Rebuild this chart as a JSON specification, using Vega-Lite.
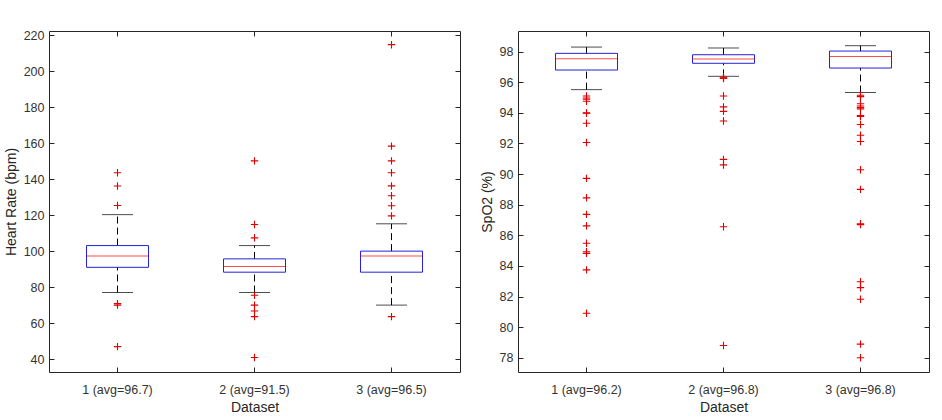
{
  "$schema": "https://vega.github.io/schema/vega-lite/v6.json",
  "padding": {"left": 3, "top": 28, "right": 5, "bottom": 5},
  "background": "white",
  "config": {
    "view": {"stroke": "#262626", "strokeWidth": 1},
    "axis": {
      "labelFont": "Liberation Sans", "titleFont": "Liberation Sans",
      "labelFontSize": 12.5, "titleFontSize": 14, "titleFontWeight": "normal",
      "labelColor": "#333333", "titleColor": "#262626",
      "grid": false, "domain": false, "tickColor": "#262626", "tickSize": -5
    }
  },
  "datasets": {
    "hr": [
      {"dataset": "1 (avg=96.7)", "lower": 77, "q1": 91, "median": 97.3, "q3": 103.1, "upper": 120.3},
      {"dataset": "2 (avg=91.5)", "lower": 77, "q1": 88.3, "median": 91.4, "q3": 95.7, "upper": 103.1},
      {"dataset": "3 (avg=96.5)", "lower": 70, "q1": 88.3, "median": 97.3, "q3": 100, "upper": 115.2}
    ],
    "hr_out": [
      {"dataset": "1 (avg=96.7)", "value": 143.6}, {"dataset": "1 (avg=96.7)", "value": 136.2},
      {"dataset": "1 (avg=96.7)", "value": 125.4}, {"dataset": "1 (avg=96.7)", "value": 70.8},
      {"dataset": "1 (avg=96.7)", "value": 70}, {"dataset": "1 (avg=96.7)", "value": 46.9},
      {"dataset": "2 (avg=91.5)", "value": 150.2}, {"dataset": "2 (avg=91.5)", "value": 114.8},
      {"dataset": "2 (avg=91.5)", "value": 107.4}, {"dataset": "2 (avg=91.5)", "value": 75.5},
      {"dataset": "2 (avg=91.5)", "value": 70}, {"dataset": "2 (avg=91.5)", "value": 66.7},
      {"dataset": "2 (avg=91.5)", "value": 63.6}, {"dataset": "2 (avg=91.5)", "value": 40.9},
      {"dataset": "3 (avg=96.5)", "value": 214.8}, {"dataset": "3 (avg=96.5)", "value": 158.4},
      {"dataset": "3 (avg=96.5)", "value": 150.2}, {"dataset": "3 (avg=96.5)", "value": 143.6},
      {"dataset": "3 (avg=96.5)", "value": 136.3}, {"dataset": "3 (avg=96.5)", "value": 130.8},
      {"dataset": "3 (avg=96.5)", "value": 125.2}, {"dataset": "3 (avg=96.5)", "value": 119.6},
      {"dataset": "3 (avg=96.5)", "value": 63.6}
    ],
    "spo2": [
      {"dataset": "1 (avg=96.2)", "lower": 95.52, "q1": 96.8, "median": 97.54, "q3": 97.89, "upper": 98.3},
      {"dataset": "2 (avg=96.8)", "lower": 96.39, "q1": 97.24, "median": 97.52, "q3": 97.8, "upper": 98.24},
      {"dataset": "3 (avg=96.8)", "lower": 95.33, "q1": 96.93, "median": 97.69, "q3": 98.04, "upper": 98.39}
    ],
    "spo2_out": [
      {"dataset": "1 (avg=96.2)", "value": 95.1}, {"dataset": "1 (avg=96.2)", "value": 94.97},
      {"dataset": "1 (avg=96.2)", "value": 94.89}, {"dataset": "1 (avg=96.2)", "value": 94.76},
      {"dataset": "1 (avg=96.2)", "value": 94.0}, {"dataset": "1 (avg=96.2)", "value": 93.98},
      {"dataset": "1 (avg=96.2)", "value": 93.32}, {"dataset": "1 (avg=96.2)", "value": 92.06},
      {"dataset": "1 (avg=96.2)", "value": 89.72}, {"dataset": "1 (avg=96.2)", "value": 88.45},
      {"dataset": "1 (avg=96.2)", "value": 87.37}, {"dataset": "1 (avg=96.2)", "value": 86.62},
      {"dataset": "1 (avg=96.2)", "value": 85.48}, {"dataset": "1 (avg=96.2)", "value": 84.93},
      {"dataset": "1 (avg=96.2)", "value": 84.82}, {"dataset": "1 (avg=96.2)", "value": 83.74},
      {"dataset": "1 (avg=96.2)", "value": 80.91},
      {"dataset": "2 (avg=96.8)", "value": 96.34}, {"dataset": "2 (avg=96.8)", "value": 96.3},
      {"dataset": "2 (avg=96.8)", "value": 96.25}, {"dataset": "2 (avg=96.8)", "value": 95.1},
      {"dataset": "2 (avg=96.8)", "value": 94.39}, {"dataset": "2 (avg=96.8)", "value": 94.1},
      {"dataset": "2 (avg=96.8)", "value": 93.47}, {"dataset": "2 (avg=96.8)", "value": 90.96},
      {"dataset": "2 (avg=96.8)", "value": 90.6}, {"dataset": "2 (avg=96.8)", "value": 86.56},
      {"dataset": "2 (avg=96.8)", "value": 78.8},
      {"dataset": "3 (avg=96.8)", "value": 95.15}, {"dataset": "3 (avg=96.8)", "value": 95.06},
      {"dataset": "3 (avg=96.8)", "value": 94.6}, {"dataset": "3 (avg=96.8)", "value": 94.45},
      {"dataset": "3 (avg=96.8)", "value": 94.35}, {"dataset": "3 (avg=96.8)", "value": 94.26},
      {"dataset": "3 (avg=96.8)", "value": 93.83}, {"dataset": "3 (avg=96.8)", "value": 93.76},
      {"dataset": "3 (avg=96.8)", "value": 93.24}, {"dataset": "3 (avg=96.8)", "value": 92.54},
      {"dataset": "3 (avg=96.8)", "value": 92.13}, {"dataset": "3 (avg=96.8)", "value": 90.28},
      {"dataset": "3 (avg=96.8)", "value": 89.0}, {"dataset": "3 (avg=96.8)", "value": 86.76},
      {"dataset": "3 (avg=96.8)", "value": 86.7}, {"dataset": "3 (avg=96.8)", "value": 82.97},
      {"dataset": "3 (avg=96.8)", "value": 82.58}, {"dataset": "3 (avg=96.8)", "value": 81.82},
      {"dataset": "3 (avg=96.8)", "value": 78.89}, {"dataset": "3 (avg=96.8)", "value": 78.0}
    ]
  },
  "spacing": 58,
  "bounds": "flush",
  "hconcat": [
    {
      "width": 411, "height": 341,
      "resolve": {"axis": {"x": "independent", "y": "independent"}},
      "layer": [
        {
          "data": {"name": "hr"},
          "mark": {"type": "rule", "color": "black", "strokeDash": [7, 4], "strokeWidth": 1},
          "encoding": {
            "x": {"field": "dataset", "type": "nominal", "scale": {"paddingInner": 0, "paddingOuter": 0},
                  "axis": {"title": "Dataset", "labelAngle": 0, "labelPadding": 16, "titlePadding": 5}},
            "y": {"field": "q3", "type": "quantitative", "scale": {"domain": [32.8, 222.4], "nice": false, "zero": false},
                  "axis": {"title": "Heart Rate (bpm)", "values": [40, 60, 80, 100, 120, 140, 160, 180, 200, 220], "labelPadding": 10, "titlePadding": 5}},
            "y2": {"field": "upper"}
          }
        },
        {
          "data": {"name": "hr"},
          "mark": {"type": "rule", "color": "black", "strokeDash": [7, 4], "strokeWidth": 1},
          "encoding": {
            "x": {"field": "dataset", "type": "nominal", "axis": null},
            "y": {"field": "lower", "type": "quantitative", "axis": null},
            "y2": {"field": "q1"}
          }
        },
        {
          "data": {"name": "hr"},
          "mark": {"type": "bar", "size": 62, "fill": "transparent", "stroke": "#2222dd", "strokeWidth": 1},
          "encoding": {
            "x": {"field": "dataset", "type": "nominal", "axis": null},
            "y": {"field": "q1", "type": "quantitative", "axis": null},
            "y2": {"field": "q3"}
          }
        },
        {
          "data": {"name": "hr"},
          "mark": {"type": "tick", "size": 62, "thickness": 1, "color": "#ff0000", "orient": "horizontal"},
          "encoding": {
            "x": {"field": "dataset", "type": "nominal",
                  "axis": {"orient": "top", "labels": false, "title": null}},
            "y": {"field": "median", "type": "quantitative",
                  "axis": {"orient": "right", "labels": false, "title": null, "values": [40, 60, 80, 100, 120, 140, 160, 180, 200, 220]}}
          }
        },
        {
          "data": {"name": "hr"},
          "mark": {"type": "tick", "size": 31, "thickness": 1, "color": "black", "orient": "horizontal"},
          "encoding": {
            "x": {"field": "dataset", "type": "nominal", "axis": null},
            "y": {"field": "upper", "type": "quantitative", "axis": null}
          }
        },
        {
          "data": {"name": "hr"},
          "mark": {"type": "tick", "size": 31, "thickness": 1, "color": "black", "orient": "horizontal"},
          "encoding": {
            "x": {"field": "dataset", "type": "nominal", "axis": null},
            "y": {"field": "lower", "type": "quantitative", "axis": null}
          }
        },
        {
          "data": {"name": "hr_out"},
          "mark": {"type": "point", "shape": "M-1,0H1M0,-1V1", "size": 55, "filled": false, "stroke": "#e00000", "strokeWidth": 1.1, "opacity": 1},
          "encoding": {
            "x": {"field": "dataset", "type": "nominal", "axis": null},
            "y": {"field": "value", "type": "quantitative", "axis": null}
          }
        }
      ]
    },
    {
      "width": 411, "height": 341,
      "resolve": {"axis": {"x": "independent", "y": "independent"}},
      "layer": [
        {
          "data": {"name": "spo2"},
          "mark": {"type": "rule", "color": "black", "strokeDash": [7, 4], "strokeWidth": 1},
          "encoding": {
            "x": {"field": "dataset", "type": "nominal", "scale": {"paddingInner": 0, "paddingOuter": 0},
                  "axis": {"title": "Dataset", "labelAngle": 0, "labelPadding": 16, "titlePadding": 5}},
            "y": {"field": "q3", "type": "quantitative", "scale": {"domain": [77.07, 99.35], "nice": false, "zero": false},
                  "axis": {"title": "SpO2 (%)", "values": [78, 80, 82, 84, 86, 88, 90, 92, 94, 96, 98], "labelPadding": 10, "titlePadding": 5}},
            "y2": {"field": "upper"}
          }
        },
        {
          "data": {"name": "spo2"},
          "mark": {"type": "rule", "color": "black", "strokeDash": [7, 4], "strokeWidth": 1},
          "encoding": {
            "x": {"field": "dataset", "type": "nominal", "axis": null},
            "y": {"field": "lower", "type": "quantitative", "axis": null},
            "y2": {"field": "q1"}
          }
        },
        {
          "data": {"name": "spo2"},
          "mark": {"type": "bar", "size": 62, "fill": "transparent", "stroke": "#2222dd", "strokeWidth": 1},
          "encoding": {
            "x": {"field": "dataset", "type": "nominal", "axis": null},
            "y": {"field": "q1", "type": "quantitative", "axis": null},
            "y2": {"field": "q3"}
          }
        },
        {
          "data": {"name": "spo2"},
          "mark": {"type": "tick", "size": 62, "thickness": 1, "color": "#ff0000", "orient": "horizontal"},
          "encoding": {
            "x": {"field": "dataset", "type": "nominal",
                  "axis": {"orient": "top", "labels": false, "title": null}},
            "y": {"field": "median", "type": "quantitative",
                  "axis": {"orient": "right", "labels": false, "title": null, "values": [78, 80, 82, 84, 86, 88, 90, 92, 94, 96, 98]}}
          }
        },
        {
          "data": {"name": "spo2"},
          "mark": {"type": "tick", "size": 31, "thickness": 1, "color": "black", "orient": "horizontal"},
          "encoding": {
            "x": {"field": "dataset", "type": "nominal", "axis": null},
            "y": {"field": "upper", "type": "quantitative", "axis": null}
          }
        },
        {
          "data": {"name": "spo2"},
          "mark": {"type": "tick", "size": 31, "thickness": 1, "color": "black", "orient": "horizontal"},
          "encoding": {
            "x": {"field": "dataset", "type": "nominal", "axis": null},
            "y": {"field": "lower", "type": "quantitative", "axis": null}
          }
        },
        {
          "data": {"name": "spo2_out"},
          "mark": {"type": "point", "shape": "M-1,0H1M0,-1V1", "size": 55, "filled": false, "stroke": "#e00000", "strokeWidth": 1.1, "opacity": 1},
          "encoding": {
            "x": {"field": "dataset", "type": "nominal", "axis": null},
            "y": {"field": "value", "type": "quantitative", "axis": null}
          }
        }
      ]
    }
  ]
}
